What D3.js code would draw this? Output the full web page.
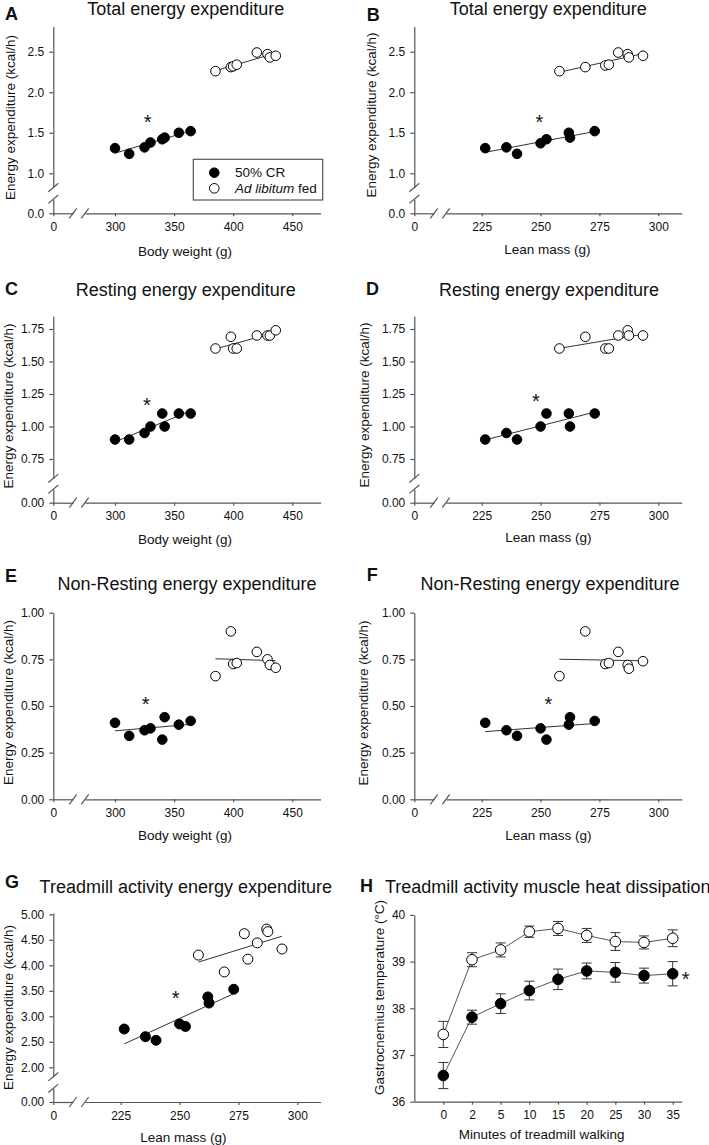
<!DOCTYPE html>
<html>
<head>
<meta charset="utf-8">
<script src="https://cdn.jsdelivr.net/npm/d3@7/dist/d3.min.js"></script>
<style>
  body { margin: 0; background: #fff; }
  svg { display: block; }
  text { font-family: "Liberation Sans", Arial, Helvetica, sans-serif; fill: #111; }
</style>
</head>
<body>
<svg id="fig" width="709" height="1145"></svg>
<script>
// ---- data (one value per animal) ----
const bodyWeightCR = [300, 312, 325, 330, 340, 342, 354, 364];
const bodyWeightAL = [385, 398, 400, 403, 420, 429, 431, 436];
const leanMassCR = [226.5, 235.5, 240, 250, 252.5, 262, 262.5, 273];
const leanMassAL = [258, 269, 277.5, 279, 283, 287, 287.5, 293.5];

// total energy expenditure (kcal/h)
const teeBwCR = [1.31, 1.24, 1.32, 1.38, 1.42, 1.44, 1.50, 1.52];
const teeBwAL = [2.26, 2.31, 2.32, 2.34, 2.49, 2.47, 2.43, 2.45];
const teeLeanCR = [1.31, 1.32, 1.24, 1.37, 1.42, 1.50, 1.44, 1.52];
const teeLeanAL = [2.26, 2.31, 2.33, 2.34, 2.49, 2.47, 2.43, 2.45];
// resting
const reeBwCR = [0.90, 0.90, 0.95, 1.00, 1.10, 1.00, 1.10, 1.10];
const reeBwAL = [1.60, 1.69, 1.60, 1.60, 1.70, 1.70, 1.70, 1.74];
const reeLeanCR = [0.90, 0.95, 0.90, 1.00, 1.10, 1.10, 1.00, 1.10];
const reeLeanAL = [1.60, 1.69, 1.60, 1.60, 1.70, 1.74, 1.70, 1.70];
// non-resting
const nreeBwCR = [0.41, 0.34, 0.37, 0.38, 0.32, 0.44, 0.40, 0.42];
const nreeBwAL = [0.66, 0.90, 0.725, 0.73, 0.79, 0.75, 0.72, 0.705];
const nreeLeanCR = [0.41, 0.37, 0.34, 0.38, 0.32, 0.40, 0.44, 0.42];
const nreeLeanAL = [0.66, 0.90, 0.725, 0.73, 0.79, 0.72, 0.70, 0.74];
// treadmill activity
const treadLeanCR = [2.75, 2.60, 2.53, 2.85, 2.80, 3.38, 3.26, 3.53];
const treadLeanAL = [4.20, 3.87, 4.62, 4.12, 4.44, 4.71, 4.66, 4.32];

// muscle temperature during walking (mean, SEM)
const minutes = ["0", "2", "5", "10", "15", "20", "25", "30", "35"];
const tempAL = [37.44, 39.04, 39.25, 39.64, 39.71, 39.56, 39.43, 39.41, 39.50];
const tempALse = [0.28, 0.15, 0.15, 0.12, 0.15, 0.15, 0.19, 0.14, 0.18];
const tempCR = [36.56, 37.81, 38.10, 38.38, 38.62, 38.80, 38.77, 38.70, 38.74];
const tempCRse = [0.28, 0.15, 0.21, 0.20, 0.22, 0.17, 0.21, 0.16, 0.26];

const svg = d3.select("#fig");
const AXIS = "#555";
const TITLE = 18, AXTITLE = 13.5, TICK = 12;

function styleAxis(sel) {
  sel.attr("font-size", null).attr("font-family", null);
  sel.selectAll(".domain, .tick line").attr("stroke", AXIS).attr("stroke-width", 1.2);
  sel.selectAll(".tick text").attr("fill", "#111").style("font-size", TICK + "px");
}

function txt(g, str, x, y, size, anchor = "middle", weight = "normal") {
  return g.append("text").attr("x", x).attr("y", y)
    .attr("text-anchor", anchor)
    .style("font-size", size + "px").style("font-weight", weight)
    .text(str);
}

function vtxt(g, str, x, y, size) {
  return g.append("text").attr("transform", `translate(${x},${y}) rotate(-90)`)
    .attr("text-anchor", "middle").style("font-size", size + "px").text(str);
}

// least squares line over the x range of one group
function fitLine(xs, ys) {
  const mx = d3.mean(xs), my = d3.mean(ys);
  const b = d3.sum(xs, (v, i) => (v - mx) * (ys[i] - my)) / d3.sum(xs, v => (v - mx) ** 2);
  const [x1, x2] = d3.extent(xs);
  return [[x1, my + b * (x1 - mx)], [x2, my + b * (x2 - mx)]];
}

function heading(g, p) {
  txt(g, p.label, p.labelPos[0], p.labelPos[1], 18, "start", "bold");
  txt(g, p.title, p.titlePos[0], p.titlePos[1], TITLE, p.titleAnchor || "middle");
  vtxt(g, p.yTitle, p.yTitlePos[0], p.yTitlePos[1], AXTITLE);
  txt(g, p.xTitle, p.xTitlePos[0], p.xTitlePos[1], AXTITLE);
}

function scatterPanel(p) {
  const g = svg.append("g");

  // x axis: short "0" stub, break, then the data segment
  const xRef = d3.scaleLinear().domain(p.xRef).range(p.xRefPx);
  const x = d3.scaleLinear()
    .domain([xRef.invert(p.xBreak[1]), xRef.invert(p.right)])
    .range([p.xBreak[1], p.right]);
  const x0 = d3.scaleLinear().domain([0, 1]).range([p.ox, p.xBreak[0]]);

  const yRef = d3.scaleLinear().domain(p.yRef).range(p.yRefPx);
  const yBottom = p.yBreak ? p.yBreak[1] : p.oy;
  const y = d3.scaleLinear()
    .domain([yRef.invert(yBottom), yRef.invert(p.top)])
    .range([yBottom, p.top]);
  const fmt = d3.format(p.yFmt);

  g.append("g").attr("transform", `translate(0,${p.oy})`)
    .call(d3.axisBottom(x).tickValues(p.xTicks).tickSize(3).tickSizeOuter(0).tickPadding(6))
    .call(styleAxis);
  g.append("g").attr("transform", `translate(0,${p.oy})`)
    .call(d3.axisBottom(x0).tickValues([0]).tickFormat(d3.format("d"))
      .tickSize(3).tickSizeOuter(0).tickPadding(6))
    .call(styleAxis);
  g.append("g").attr("transform", `translate(${p.ox},0)`)
    .call(d3.axisLeft(y).tickValues(p.yTicks).tickFormat(fmt).tickSize(4).tickSizeOuter(0).tickPadding(5))
    .call(styleAxis);
  if (p.yBreak) {
    const y0 = d3.scaleLinear().domain([0, 1]).range([p.oy, p.yBreak[0]]);
    g.append("g").attr("transform", `translate(${p.ox},0)`)
      .call(d3.axisLeft(y0).tickValues([0]).tickFormat(fmt).tickSize(4).tickSizeOuter(0).tickPadding(5))
      .call(styleAxis);
  }

  // break marks
  const slash = (cx, cy, dx, dy) => g.append("line")
    .attr("x1", cx - dx).attr("y1", cy + dy).attr("x2", cx + dx).attr("y2", cy - dy)
    .attr("stroke", AXIS).attr("stroke-width", 1.2);
  p.xBreak.forEach(bx => slash(bx, p.oy, 3.7, 5));
  if (p.yBreak) p.yBreak.forEach(by => slash(p.ox, by, 5, 4.2));

  // regression lines then points
  p.series.forEach(s => {
    const [[x1, y1], [x2, y2]] = fitLine(s.x, s.y);
    g.append("line")
      .attr("x1", x(x1)).attr("y1", y(y1)).attr("x2", x(x2)).attr("y2", y(y2))
      .attr("stroke", "#333").attr("stroke-width", 1);
  });
  p.series.forEach(s => {
    g.selectAll(null).data(d3.zip(s.x, s.y)).join("circle")
      .attr("cx", d => x(d[0])).attr("cy", d => y(d[1]))
      .attr("r", p.r || 4.8)
      .attr("fill", s.filled ? "#000" : "#fff")
      .attr("stroke", "#000").attr("stroke-width", 1);
  });

  txt(g, "*", x(p.star[0]), y(p.star[1]) + 11.4, 20);
  heading(g, p);
  return g;
}

// ---- layout ----
const leftCol = { ox: 53.3, right: 320.5, xBreak: [73, 85] };
const rightCol = { ox: 414.3, right: 681.7, xBreak: [434, 446] };
const bwAxis = { xRef: [300, 450], xRefPx: [115, 292.3], xTicks: [300, 350, 400, 450], xTitle: "Body weight (g)" };
const leanAxisR = { xRef: [225, 300], xRefPx: [481.7, 658.3], xTicks: [225, 250, 275, 300], xTitle: "Lean mass (g)" };
const leanAxisL = { xRef: [225, 300], xRefPx: [120.7, 297.3], xTicks: [225, 250, 275, 300], xTitle: "Lean mass (g)" };

const rowTEE = { oy: 213.3, top: 26.5, yRef: [1.0, 2.5], yRefPx: [173.3, 51.7], yBreak: [199.2, 187.5], yTicks: [1, 1.5, 2, 2.5], yFmt: ".1f" };
const rowREE = { oy: 502.7, top: 316, yRef: [0.75, 1.75], yRefPx: [459, 329], yBreak: [489.2, 478.3], yTicks: [0.75, 1, 1.25, 1.5, 1.75], yFmt: ".2f" };
const rowNREE = { oy: 799.3, top: 612.7, yRef: [0, 1], yRefPx: [799.3, 612.7], yBreak: null, yTicks: [0, 0.25, 0.5, 0.75, 1], yFmt: ".2f" };
const rowTread = { oy: 1102, top: 913, yRef: [2, 5], yRefPx: [1067.3, 914.3], yBreak: [1088.3, 1076.7], yTicks: [2, 2.5, 3, 3.5, 4, 4.5, 5], yFmt: ".2f" };

const eeTitle = "Energy expenditure (kcal/h)";
const grp = (xCR, yCR, xAL, yAL) => [
  { x: xAL, y: yAL, filled: false },
  { x: xCR, y: yCR, filled: true }
];

const panelA = scatterPanel({ ...leftCol, ...bwAxis, ...rowTEE,
  label: "A", labelPos: [5, 20], title: "Total energy expenditure", titlePos: [185.7, 14.5],
  yTitle: eeTitle, yTitlePos: [14.5, 117.5], xTitlePos: [185, 255.5], star: [327.7, 1.69],
  series: grp(bodyWeightCR, teeBwCR, bodyWeightAL, teeBwAL) });

scatterPanel({ ...rightCol, ...leanAxisR, ...rowTEE,
  label: "B", labelPos: [366.7, 20.5], title: "Total energy expenditure", titlePos: [548.3, 14.5],
  yTitle: eeTitle, yTitlePos: [376, 115], xTitlePos: [547.3, 253.5], star: [249.5, 1.69],
  series: grp(leanMassCR, teeLeanCR, leanMassAL, teeLeanAL) });

scatterPanel({ ...leftCol, ...bwAxis, ...rowREE,
  label: "C", labelPos: [5, 295], title: "Resting energy expenditure", titlePos: [185.8, 295.5],
  yTitle: eeTitle, yTitlePos: [12.5, 406], xTitlePos: [185, 543.5], star: [327, 1.20],
  series: grp(bodyWeightCR, reeBwCR, bodyWeightAL, reeBwAL) });

scatterPanel({ ...rightCol, ...leanAxisR, ...rowREE,
  label: "D", labelPos: [366, 295], title: "Resting energy expenditure", titlePos: [549, 295.5],
  yTitle: eeTitle, yTitlePos: [368.5, 405], xTitlePos: [548.3, 542], star: [248, 1.23],
  series: grp(leanMassCR, reeLeanCR, leanMassAL, reeLeanAL) });

scatterPanel({ ...leftCol, ...bwAxis, ...rowNREE,
  label: "E", labelPos: [5, 582], title: "Non-Resting energy expenditure", titlePos: [187, 589.5],
  yTitle: eeTitle, yTitlePos: [12.5, 702.5], xTitlePos: [185, 840], star: [326, 0.536],
  series: grp(bodyWeightCR, nreeBwCR, bodyWeightAL, nreeBwAL) });

scatterPanel({ ...rightCol, ...leanAxisR, ...rowNREE,
  label: "F", labelPos: [366.7, 581], title: "Non-Resting energy expenditure", titlePos: [550, 589.5],
  yTitle: eeTitle, yTitlePos: [368, 703], xTitlePos: [548.3, 839.5], star: [253.3, 0.536],
  series: grp(leanMassCR, nreeLeanCR, leanMassAL, nreeLeanAL) });

scatterPanel({ ...leftCol, ...leanAxisL, ...rowTread, r: 5,
  label: "G", labelPos: [5, 888], title: "Treadmill activity energy expenditure", titlePos: [185.8, 893],
  yTitle: eeTitle, yTitlePos: [12.5, 1007.5], xTitlePos: [183.3, 1141.5], star: [248.3, 3.45],
  series: grp(leanMassCR, treadLeanCR, leanMassAL, treadLeanAL) });

// legend (panel A)
const legend = panelA.append("g");
legend.append("rect").attr("x", 193.3).attr("y", 159.3).attr("width", 129.4).attr("height", 40.7)
  .attr("fill", "#fff").attr("stroke", AXIS).attr("stroke-width", 1.2);
legend.append("circle").attr("cx", 214.3).attr("cy", 172.7).attr("r", 4.8).attr("fill", "#000").attr("stroke", "#000");
legend.append("circle").attr("cx", 214.3).attr("cy", 188.3).attr("r", 4.8).attr("fill", "#fff").attr("stroke", "#000");
txt(legend, "50% CR", 235, 177.3, 13.5, "start");
const alText = txt(legend, "", 235, 193.3, 13.5, "start");
alText.append("tspan").style("font-style", "italic").text("Ad libitum");
alText.append("tspan").text(" fed");

// ---- panel H: muscle temperature ----
(function () {
  const g = svg.append("g");
  const ox = 414.3, oy = 1101.7, right = 681.7;
  const xRef = d3.scaleLinear().domain([0, minutes.length - 1]).range([443.3, 672.7]);
  const x = d3.scaleLinear().domain([xRef.invert(ox), xRef.invert(right)]).range([ox, right]);
  const y = d3.scaleLinear().domain([36, 40]).range([oy, 914.9]);

  g.append("g").attr("transform", `translate(0,${oy})`)
    .call(d3.axisBottom(x).tickValues(d3.range(minutes.length)).tickFormat(i => minutes[i])
      .tickSize(3).tickSizeOuter(0).tickPadding(6))
    .call(styleAxis);
  g.append("g").attr("transform", `translate(${ox},0)`)
    .call(d3.axisLeft(y).tickValues([36, 37, 38, 39, 40]).tickFormat(d3.format("d"))
      .tickSize(4).tickSizeOuter(0).tickPadding(5))
    .call(styleAxis);

  const groups = [
    { mean: tempAL, se: tempALse, filled: false },
    { mean: tempCR, se: tempCRse, filled: true }
  ];
  const line = d3.line().x((d, i) => x(i)).y(d => y(d));
  groups.forEach(s => {
    g.append("path").attr("d", line(s.mean)).attr("fill", "none")
      .attr("stroke", "#555").attr("stroke-width", 1);
  });
  groups.forEach(s => {
    const bars = g.selectAll(null).data(s.mean).join("g");
    bars.append("line")
      .attr("x1", (d, i) => x(i)).attr("x2", (d, i) => x(i))
      .attr("y1", (d, i) => y(d - s.se[i])).attr("y2", (d, i) => y(d + s.se[i]));
    bars.append("line")
      .attr("x1", (d, i) => x(i) - 5).attr("x2", (d, i) => x(i) + 5)
      .attr("y1", (d, i) => y(d + s.se[i])).attr("y2", (d, i) => y(d + s.se[i]));
    bars.append("line")
      .attr("x1", (d, i) => x(i) - 5).attr("x2", (d, i) => x(i) + 5)
      .attr("y1", (d, i) => y(d - s.se[i])).attr("y2", (d, i) => y(d - s.se[i]));
    bars.selectAll("line").attr("stroke", "#333").attr("stroke-width", 1);
  });
  groups.forEach(s => {
    g.selectAll(null).data(s.mean).join("circle")
      .attr("cx", (d, i) => x(i)).attr("cy", d => y(d)).attr("r", 5.3)
      .attr("fill", s.filled ? "#000" : "#fff")
      .attr("stroke", "#000").attr("stroke-width", 1);
  });

  const last = minutes.length - 1;
  txt(g, "*", x(last) + 13, y(tempCR[last]) + 12.4, 20);

  heading(g, {
    label: "H", labelPos: [360, 891.5],
    title: "Treadmill activity muscle heat dissipation", titlePos: [385, 893], titleAnchor: "start",
    yTitle: "Gastrocnemius temperature (°C)", yTitlePos: [384, 997.5],
    xTitle: "Minutes of treadmill walking", xTitlePos: [541.7, 1138.5]
  });
})();
</script>
</body>
</html>
